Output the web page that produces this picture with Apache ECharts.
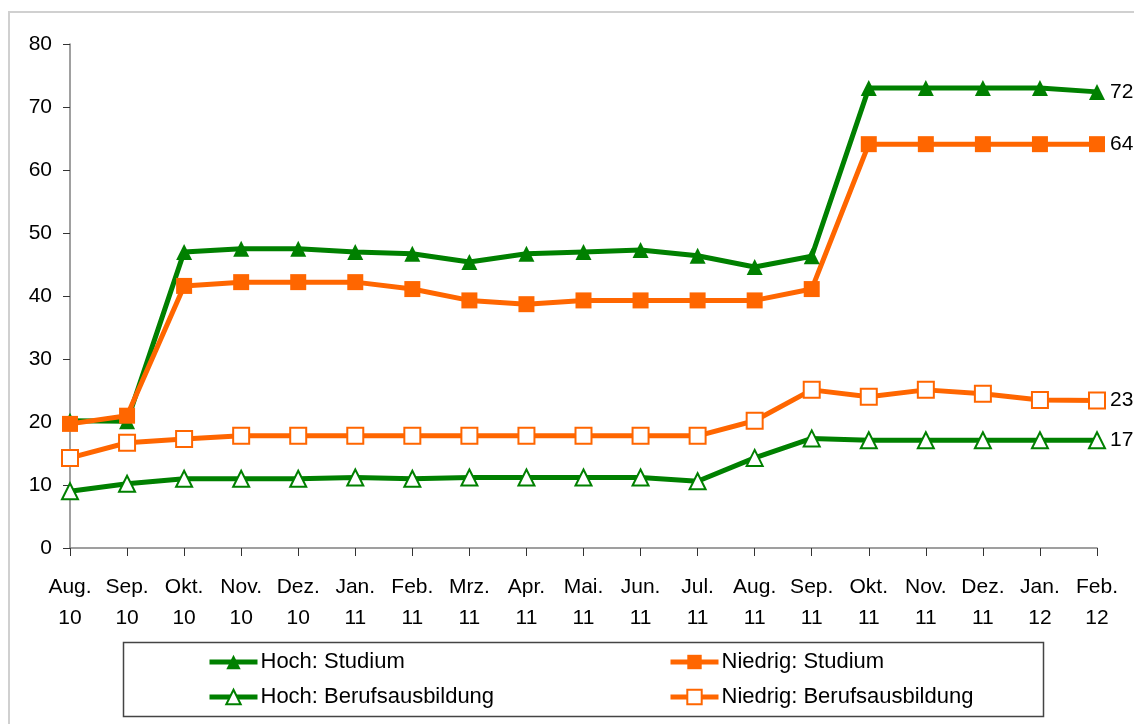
<!DOCTYPE html>
<html>
<head>
<meta charset="utf-8">
<script src="https://cdn.jsdelivr.net/npm/echarts@6/dist/echarts.min.js"></script>
<style>
  html, body { margin: 0; padding: 0; background: #fff; }
  #chart { width: 1134px; height: 724px; }
</style>
</head>
<body>
<div id="chart"></div>
<script>
  // Monate (Aug. 10 bis Feb. 12)
  const categories = ['Aug.\n10', 'Sep.\n10', 'Okt.\n10', 'Nov.\n10', 'Dez.\n10', 'Jan.\n11', 'Feb.\n11',
    'Mrz.\n11', 'Apr.\n11', 'Mai.\n11', 'Jun.\n11', 'Jul.\n11', 'Aug.\n11', 'Sep.\n11', 'Okt.\n11',
    'Nov.\n11', 'Dez.\n11', 'Jan.\n12', 'Feb.\n12'];

  const hochStudium = [20.2, 20.1, 47.0, 47.5, 47.5, 47.0, 46.7, 45.4, 46.7, 47.0, 47.3, 46.4, 44.6, 46.3,
    73.0, 73.0, 73.0, 73.0, 72.4];
  const niedrigStudium = [19.7, 21.0, 41.6, 42.2, 42.2, 42.2, 41.1, 39.3, 38.7, 39.3, 39.3, 39.3, 39.3, 41.1,
    64.1, 64.1, 64.1, 64.1, 64.1];
  const hochBeruf = [9.0, 10.2, 11.0, 11.0, 11.0, 11.2, 11.0, 11.2, 11.2, 11.2, 11.2, 10.6, 14.3, 17.4,
    17.1, 17.1, 17.1, 17.1, 17.1];
  const niedrigBeruf = [14.3, 16.7, 17.3, 17.8, 17.8, 17.8, 17.8, 17.8, 17.8, 17.8, 17.8, 17.8, 20.2, 25.1,
    24.0, 25.1, 24.5, 23.5, 23.4];

  const yTicks = { min: 0, max: 80, interval: 10 };

  const GREEN = '#008000';
  const ORANGE = '#ff6600';
  const FONT = '"Liberation Sans", Arial, sans-serif';
  const FS = 21;

  function makeSeries(name, data, color, symbol) {
    return {
      name: name,
      type: 'line',
      data: data,
      symbol: symbol,
      symbolSize: 16,
      showAllSymbol: true,
      lineStyle: { color: color, width: 5 },
      itemStyle: { color: color, borderWidth: 2 },
      emphasis: { disabled: true },
      endLabel: {
        show: true,
        distance: 13,
        color: '#000',
        fontFamily: FONT,
        fontSize: FS,
        formatter: p => String(Math.round(p.value))
      }
    };
  }

  const legendBase = {
    orient: 'vertical', top: 651, itemGap: 13, padding: 0,
    itemWidth: 48, itemHeight: 18,
    lineStyle: { width: 5 },
    textStyle: { fontSize: 22, color: '#000', fontFamily: FONT, padding: [0, 0, 0, -2] },
    selectedMode: false
  };

  const chart = echarts.init(document.getElementById('chart'));
  chart.setOption({
    animation: false,
    backgroundColor: '#fff',
    textStyle: { fontFamily: FONT },
    grid: { left: 70, right: 37, top: 44, bottom: 176 },
    graphic: [
      { type: 'rect', shape: { x: 9, y: 12, width: 1300, height: 900 },
        style: { fill: 'none', stroke: '#d0d0d0', lineWidth: 2 }, silent: true },
      { type: 'rect', shape: { x: 123.5, y: 642.5, width: 920, height: 74 },
        style: { fill: 'none', stroke: '#444', lineWidth: 1.5 }, silent: true }
    ],
    legend: [
      Object.assign({}, legendBase, { left: 207, data: ['Hoch: Studium', 'Hoch: Berufsausbildung'] }),
      Object.assign({}, legendBase, { left: 668, data: ['Niedrig: Studium', 'Niedrig: Berufsausbildung'] })
    ],
    xAxis: {
      type: 'category',
      data: categories,
      boundaryGap: false,
      axisLine: { lineStyle: { color: '#808080', width: 1.5 } },
      axisTick: { show: true, length: 8, lineStyle: { color: '#333' } },
      axisLabel: { color: '#000', fontSize: FS, lineHeight: 31, margin: 24, interval: 0, fontFamily: FONT },
      splitLine: { show: false }
    },
    yAxis: {
      type: 'value',
      min: yTicks.min,
      max: yTicks.max,
      interval: yTicks.interval,
      axisLine: { show: true, lineStyle: { color: '#808080', width: 1.5 } },
      axisTick: { show: true, length: 7, lineStyle: { color: '#333' } },
      axisLabel: { color: '#000', fontSize: FS, margin: 18, fontFamily: FONT },
      splitLine: { show: false }
    },
    series: [
      makeSeries('Hoch: Studium', hochStudium, GREEN, 'triangle'),
      makeSeries('Niedrig: Studium', niedrigStudium, ORANGE, 'rect'),
      makeSeries('Hoch: Berufsausbildung', hochBeruf, GREEN, 'emptyTriangle'),
      makeSeries('Niedrig: Berufsausbildung', niedrigBeruf, ORANGE, 'emptyRect')
    ]
  });
</script>
</body>
</html>
